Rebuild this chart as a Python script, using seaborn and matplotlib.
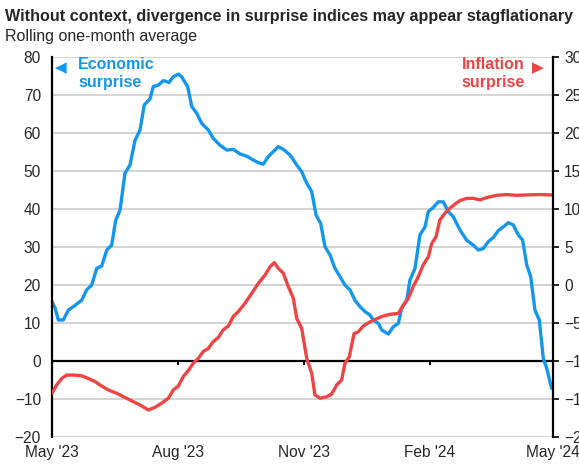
import pandas as pd
import matplotlib
matplotlib.use("Agg")
import matplotlib.pyplot as plt
import matplotlib.dates as mdates
import seaborn as sns

# values (days after 1 May 2023)
econ_days = [0, 2.2, 4.6, 8.3, 11.9, 15.6, 21.7, 25.3, 29, 32.7, 36.3, 40, 43.6, 46.5,
             49.7, 53.3, 57, 60.6, 64.3, 67.4, 71.6, 74, 77.7, 81.3, 85.5, 88.6, 92.3,
             94.7, 99.1, 102.1, 105.7, 109.4, 114.2, 117.8, 122.7, 127.6, 132.4, 137.3,
             142.2, 147, 150.7, 154.4, 158, 161.7, 165.3, 169, 173.9, 178.8, 182.4,
             186.1, 189.7, 192.9, 196.3, 199.4, 203.1, 206.7, 210.4, 214, 217.7, 221.3,
             225, 228.7, 232.3, 234.7, 238.4, 240.8, 245.7, 249.3, 253, 255.5, 259.1,
             261.5, 265.2, 268.8, 272.5, 274.9, 278.5, 282.2, 285.8, 289.5, 293.1, 298,
             302.9, 307.8, 311.4, 315.1, 318.7, 322.4, 326, 329.7, 333.3, 337, 340.6,
             343.8, 346.8, 349.7, 352.8, 356, 358.9, 361.4, 365]
econ_vals = [15.6, 14, 10.8, 10.8, 13.4, 14.3, 16, 18.7, 20, 24.4, 25, 29.2, 30.5, 37,
             39.7, 49.4, 51.6, 58, 60.8, 67.4, 69, 72.2, 72.6, 73.8, 73.3, 74.8, 75.5,
             74.8, 72.2, 67, 65.2, 62.5, 60.8, 58.6, 56.8, 55.5, 55.7, 54.5, 53.9, 52.9,
             52.2, 51.8, 53.8, 55.1, 56.4, 55.7, 54.2, 51.6, 49.8, 46.8, 44.6, 38.4,
             36.2, 30.1, 27.9, 24.4, 22.2, 20, 18.7, 16, 14.3, 13, 12.1, 10.8, 9.9, 8.2,
             7.1, 9, 9.9, 13.9, 16, 21.3, 24.4, 33.2, 35.3, 39.3, 40.4, 41.9, 41.9, 39.3,
             38, 34.5, 31.8, 30.5, 29.2, 29.6, 31.4, 32.5, 34.3, 35.3, 36.4, 35.8, 33.2,
             31.8, 25.3, 22.2, 13.4, 10.8, 0.7, -1.9, -7.2]

infl_days = [0, 3.4, 7.1, 10.7, 15.6, 21.7, 26.5, 31.4, 36.3, 41.1, 47.3, 53.3, 59.4,
             65.5, 70.3, 75.2, 80.1, 85, 88.6, 92.3, 95.9, 99.6, 103.2, 106.9, 110.5,
             114.2, 117.8, 121.5, 125.1, 128.8, 132.4, 136.1, 141, 145.9, 150.7, 155.6,
             159.3, 162.4, 165.3, 169, 172.6, 176.3, 178.8, 182.4, 186.1, 189.7, 192.1,
             195.8, 200.7, 204.3, 208, 211.6, 214, 217.2, 220.6, 223.8, 227.4, 232.3,
             240.8, 246.9, 253, 256.6, 260.3, 263.9, 267.6, 271.2, 274.9, 277.4, 280.5,
             283.4, 287.1, 290.7, 294.4, 298, 302.9, 307.8, 312.7, 317.5, 324.9, 332.2,
             339.5, 346.8, 356.5, 365]
infl_vals = [-14.25, -13.15, -12.3, -11.85, -11.85, -11.95, -12.3, -12.7, -13.3, -13.8,
             -14.25, -14.8, -15.35, -15.9, -16.45, -16.1, -15.55, -14.9, -13.8, -13.3,
             -12.05, -11.25, -10.3, -9.65, -8.75, -8.35, -7.45, -6.9, -5.9, -5.4, -4.15,
             -3.5, -2.4, -1.1, 0.2, 1.3, 2.4, 2.95, 2.2, 1.55, -0.2, -1.75, -4.4, -5.7,
             -9.65, -11.6, -14.45, -14.9, -14.7, -14.35, -13.15, -12.5, -10.3, -9.45,
             -6.4, -6.15, -5.4, -4.85, -4.15, -3.85, -3.75, -2.65, -1.75, -0.2, 1.1,
             2.65, 3.7, 5.45, 6.35, 8.55, 9.45, 10.1, 10.65, 11.1, 11.4, 11.4, 11.2,
             11.5, 11.8, 11.9, 11.8, 11.85, 11.9, 11.85]

tick_dates = ["2023-05-01", "2023-08-01", "2023-11-01", "2024-02-01", "2024-05-01"]
tick_labels = ["May '23", "Aug '23", "Nov '23", "Feb '24", "May '24"]

BLUE = "#1396ee"
RED = "#ee4444"

start = pd.Timestamp("2023-05-01")
econ = pd.DataFrame({"date": start + pd.to_timedelta(econ_days, unit="D"), "value": econ_vals})
infl = pd.DataFrame({"date": start + pd.to_timedelta(infl_days, unit="D"), "value": infl_vals})
ticks = pd.to_datetime(tick_dates)

sns.set_style("white")
plt.rcParams["font.family"] = ["Liberation Sans", "DejaVu Sans"]

fig = plt.figure(figsize=(5.79, 4.65), dpi=100)
ax = fig.add_axes([0.0898, 0.0602, 0.8653, 0.8172])
ax2 = ax.twinx()

sns.lineplot(data=econ, x="date", y="value", ax=ax, color=BLUE, linewidth=2.4)
sns.lineplot(data=infl, x="date", y="value", ax=ax2, color=RED, linewidth=2.4)

ax.set_xlim(ticks[0], ticks[-1])
ax.set_ylim(-20, 80)
ax.set_yticks(range(-20, 81, 10))
ax2.set_ylim(-20, 30)
ax2.set_yticks(range(-20, 31, 5))
ax.set_xticks(ticks)
ax.set_xticklabels(tick_labels)
for a in (ax, ax2):
    a.set_xlabel("")
    a.set_ylabel("")

ax.grid(axis="y", color="#cccccc", linewidth=1.2)
ax.set_axisbelow(True)
for side in ("top", "bottom", "right"):
    ax.spines[side].set_visible(False)
for side in ("top", "bottom", "left"):
    ax2.spines[side].set_visible(False)
ax.spines["left"].set_color("black")
ax.spines["left"].set_linewidth(1.6)
ax2.spines["right"].set_color("black")
ax2.spines["right"].set_linewidth(1.6)

ax.tick_params(axis="x", length=0, labelsize=11.2, pad=6)
ax.tick_params(axis="y", length=0, labelsize=11.2, pad=8)
ax2.tick_params(axis="y", direction="out", length=4, width=1.4, labelsize=11.2, pad=4)

# zero line with small date ticks
ax.axhline(0, color="black", linewidth=1.6, zorder=1.5)
zero = ax.secondary_xaxis(0.2)
zero.set_xticks(mdates.date2num(ticks))
zero.tick_params(axis="x", direction="out", length=3, width=1.4, color="black",
                 labelbottom=False)
zero.spines["bottom"].set_visible(False)

# series labels
ax.text(0.006, 0.972, "\u25c0", transform=ax.transAxes, color=BLUE, fontsize=11,
        va="center", ha="left", family=["DejaVu Sans"])
ax.text(0.052, 1.0, "Economic\nsurprise", transform=ax.transAxes, color=BLUE,
        fontsize=11.5, fontweight="bold", va="top", ha="left", linespacing=1.25)
ax.text(0.818, 1.0, "Inflation\nsurprise", transform=ax.transAxes, color=RED,
        fontsize=11.5, fontweight="bold", va="top", ha="left", linespacing=1.25)
ax.text(0.97, 0.972, "\u25b6", transform=ax.transAxes, color=RED, fontsize=11,
        va="center", ha="center", family=["DejaVu Sans"])

fig.text(0.009, 0.965, "Without context, divergence in surprise indices may appear stagflationary",
         fontsize=11.6, fontweight="bold", va="center", ha="left")
fig.text(0.009, 0.921, "Rolling one-month average", fontsize=11.5, va="center", ha="left")

fig.savefig("out.png", dpi=100)
